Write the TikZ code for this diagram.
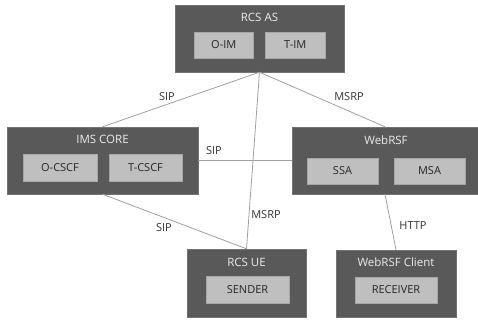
\documentclass[tikz,border=0pt]{standalone}
\usepackage{fontspec}
\setmainfont{Open Sans}
\begin{document}
\begin{tikzpicture}[x=1pt,y=-1pt,
  outerbox/.style={draw=black!55,line width=0.4pt,fill=darkbox,minimum width=#1,minimum height=67pt,inner sep=0pt},
  innerbox/.style={draw=black!35,line width=0.4pt,fill=lightbox,minimum width=#1,minimum height=26pt,inner sep=0pt,
    font=\fontsize{11}{13}\selectfont,text=black!85},
  boxtitle/.style={font=\fontsize{11.5}{13}\selectfont,text=white!92!black,inner sep=0pt},
  link/.style={draw=linkgray,line width=0.8pt},
  linklabel/.style={font=\fontsize{11}{13}\selectfont,text=black!80,inner sep=0pt}]
\definecolor{darkbox}{HTML}{595959}
\definecolor{lightbox}{HTML}{BFBFBF}
\definecolor{linkgray}{HTML}{A0A0A0}
\path[use as bounding box,fill=white] (0,0) rectangle (478,320);

% outer systems
\node[outerbox=169pt] (rcsas) at (259.5,38.5) {};
\node[outerbox=191pt] (ims) at (102.5,160.5) {};
\node[outerbox=186pt] (web) at (385,160.5) {};
\node[outerbox=119pt,minimum height=68pt] (ue) at (246.5,283) {};
\node[outerbox=120pt] (cli) at (396,283.5) {};

% titles
\node[boxtitle] (rcsasT) at (259.5,17) {RCS AS};
\node[boxtitle] (imsT) at (102.5,139) {IMS CORE};
\node[boxtitle] (webT) at (386,140) {WebRSF};
\node[boxtitle] (ueT) at (246.5,262) {RCS UE};
\node[boxtitle] (cliT) at (396,262) {WebRSF Client};

% components
\node[innerbox=59.5pt] (oim) at (223.75,45) {O-IM};
\node[innerbox=59.5pt] (tim) at (295.25,45) {T-IM};
\node[innerbox=74pt,minimum height=27pt] (ocscf) at (60,167.5) {O-CSCF};
\node[innerbox=73pt,minimum height=27pt] (tcscf) at (145.5,167.5) {T-CSCF};
\node[innerbox=71pt] (ssa) at (342.5,171) {SSA};
\node[innerbox=71pt] (msa) at (429.5,171) {MSA};
\node[innerbox=83pt,minimum height=27pt] (sender) at (247.5,289.5) {SENDER};
\node[innerbox=82pt] (receiver) at (396,290) {RECEIVER};

% links
\draw[link] (rcsas.south) -- (ims.north);
\draw[link] (rcsas.south) -- (web.north);
\draw[link] (rcsas.south) -- (ue.north);
\draw[link] (ims.east) -- (web.west);
\draw[link] (ims.south) -- (ue.north);
\draw[link] (web.south) -- (cli.north);

% link labels
\node[linklabel] (l1) at (167,97) {SIP};
\node[linklabel] (l2) at (349,97) {MSRP};
\node[linklabel] (l3) at (214,151) {SIP};
\node[linklabel] (l4) at (266,215) {MSRP};
\node[linklabel] (l5) at (164,228) {SIP};
\node[linklabel] (l6) at (413,226) {HTTP};
\end{tikzpicture}
\end{document}
